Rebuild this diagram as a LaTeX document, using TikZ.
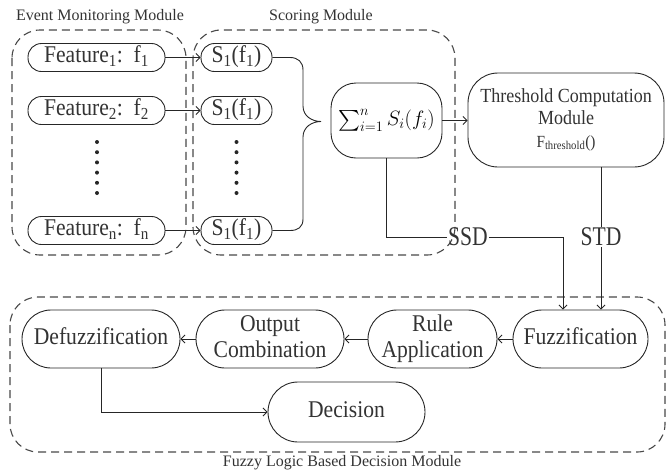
\documentclass[tikz,border=0pt]{standalone}
\usepackage{amsmath}
\usepackage{fontspec}
\setmainfont{Liberation Serif}
\usepackage{graphicx}
\usetikzlibrary{arrows.meta}
\newcommand{\hsq}[1]{\scalebox{0.9}[1]{\begin{tabular}{@{}c@{}}#1\end{tabular}}}
\newcommand{\nsq}[1]{\scalebox{0.8}[1]{#1}}
\definecolor{txt}{HTML}{333333}
\definecolor{dsh}{HTML}{484848}
\begin{document}
\begin{tikzpicture}[x=1pt,y=-1pt,
  box/.style={draw=black!85, line width=0.9pt, inner sep=0pt, text=txt,
    font=\fontsize{24}{26}\selectfont},
  feat/.style={box, rounded corners=13.5pt, minimum width=137pt, minimum height=28pt},
  sbox/.style={box, rounded corners=13.5pt, minimum width=71pt, minimum height=28pt},
  pill/.style={box, rounded corners=29pt, minimum height=58pt},
  grp/.style={draw=dsh, line width=1.1pt, dash pattern=on 8pt off 5pt, rounded corners=28pt},
  lab/.style={text=txt, font=\fontsize{16}{18}\selectfont, inner sep=0pt},
  big/.style={text=txt, font=\fontsize{27}{28}\selectfont, inner sep=1pt},
  con/.style={draw=black!85, line width=0.9pt},
  arr/.style={con, -{Straight Barb[length=4pt,width=8pt]}}
]
\useasboundingbox (0,0) rectangle (666,475);

% group frames
\draw[grp] (12,30) rectangle (186,255);
\draw[grp] (193,30) rectangle (455,255);
\draw[grp] (10,297) rectangle (665,452);

\node[lab] (lev) at (100,17) {Event Monitoring Module};
\node[lab] (lsc) at (321,17) {Scoring Module};
\node[lab] (lfz) at (342,463) {Fuzzy Logic Based Decision Module};

% features
\node[feat] (f1) at (96.5,57.5) {\hsq{Feature\textsubscript{1}:\ \ f\textsubscript{1}}};
\node[feat] (f2) at (96.5,110.5) {\hsq{Feature\textsubscript{2}:\ \ f\textsubscript{2}}};
\node[feat] (fn) at (96.5,230.5) {\hsq{Feature\textsubscript{n}:\ \ f\textsubscript{n}}};
\foreach \yy in {142,152.2,162.4,172.6,182.8,193} {
  \fill[black!85] (97,\yy) circle (2pt);
  \fill[black!85] (236.5,\yy) circle (2pt);
}

% scores
\node[sbox] (s1) at (236.5,57.5) {\hsq{S\textsubscript{1}(f\textsubscript{1})}};
\node[sbox] (s2) at (236.5,110.5) {\hsq{S\textsubscript{1}(f\textsubscript{1})}};
\node[sbox] (sn) at (236.5,230.5) {\hsq{S\textsubscript{1}(f\textsubscript{1})}};
\draw[arr] (f1) -- (s1);
\draw[arr] (f2) -- (s2);
\draw[arr] (fn) -- (sn);

% sum and threshold
\node[box, rounded corners=25pt, minimum width=111pt, minimum height=75pt, text=black,
  font=\fontsize{21}{23}\selectfont] (sum) at (386.5,120.5) {$\sum_{i=1}^{n} S_i(f_i)$};
\node[box, rounded corners=30pt, minimum width=196pt, minimum height=94pt,
  font=\fontsize{20}{22.5}\selectfont] (thr) at (566,120)
  {\hsq{Threshold Computation\\Module\\{\fontsize{17}{22.5}\selectfont F\textsubscript{threshold}()}}};

% brace
\draw[con] (s1.east) -- (290,57.5) .. controls (298,57.5) and (303,62) .. (303,70)
  -- (303,106) .. controls (303,116) and (312,121.5) .. (321,121.5)
  .. controls (312,121.5) and (303,127) .. (303,137)
  -- (303,219) .. controls (303,227) and (298,230.5) .. (290,230.5) -- (sn.east);

\draw[arr] (sum.east) -- (sum.east -| thr.west);

% decision module
\node[pill, minimum width=135pt] (fuzz) at (580.5,339) {\hsq{Fuzzification}};
\node[pill, minimum width=129pt] (rule) at (432.5,339) {\hsq{Rule\\Application}};
\node[pill, minimum width=148pt] (out) at (270,339) {\hsq{Output\\Combination}};
\node[pill, minimum width=158pt] (defz) at (101,339) {\hsq{Defuzzification}};
\node[pill, rounded corners=30pt, minimum width=157pt, minimum height=60pt] (dec) at (346.5,412) {\hsq{Decision}};

\draw[arr] (fuzz) -- (rule);
\draw[arr] (rule) -- (out);
\draw[arr] (out) -- (defz);
\draw[arr] (defz.south) |- (dec.west);

% SSD / STD
\node[big] (ssd) at (468,237) {\nsq{SSD}};
\node[big] (std) at (601,237) {\nsq{STD}};
\draw[con] (sum.south) |- (ssd.west);
\draw[arr] (ssd.east) -| ([xshift=-17.5pt]fuzz.north);
\draw[con] (thr.south -| std.north) -- (std.north);
\draw[arr] (std.south) -- (std.south |- fuzz.north);
\end{tikzpicture}
\end{document}
